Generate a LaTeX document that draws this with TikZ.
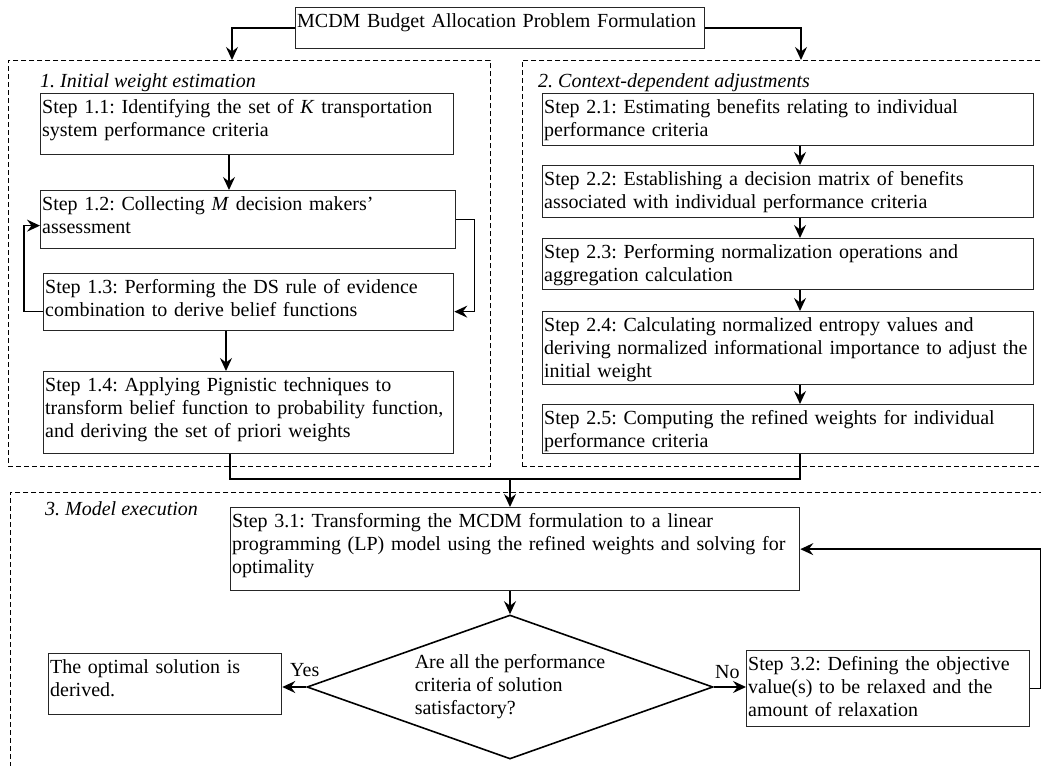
\documentclass[tikz,border=0pt]{standalone}
\usepackage{fontspec}
\setmainfont{Liberation Serif}
\usetikzlibrary{arrows.meta,shapes.geometric}
\frenchspacing

\begin{document}
\begin{tikzpicture}[x=1bp, y=-1bp,
	every node/.style={font=\fontsize{20bp}{23bp}\selectfont},
	stepbox/.style={draw=black!85, line width=1.3bp, anchor=north west, align=left, inner xsep=1.5bp, inner ysep=3bp, text height=17bp},
	groupbox/.style={draw, line width=0.9bp, dash pattern=on 5bp off 3bp, anchor=north west, inner sep=0pt},
	grouptitle/.style={anchor=base west, inner sep=0pt, font=\fontsize{20bp}{23bp}\selectfont\itshape},
	decision/.style={diamond, draw, line width=1.6bp, aspect=2.8, inner sep=0pt, align=left},
	arr/.style={line width=1.6bp, -{Stealth[length=13bp,width=12bp,inset=4.5bp]}},
	line/.style={line width=1.6bp}]
		%%%%% START %%%%%
		
		\useasboundingbox (0,0) rectangle (1041,766);
		\clip (0,0) rectangle (1041,766);
		
		\node[stepbox, text width=406bp, text depth=18bp] (top) at (295,7) {MCDM Budget Allocation Problem Formulation};
		
		% group frames
		\node[groupbox, minimum width=482bp, minimum height=406bp] (d1) at (8,60) {};
		\node[groupbox, minimum width=560bp, minimum height=406bp] (d2) at (522,60) {};
		\node[groupbox, minimum width=1080bp, minimum height=330bp] (d3) at (10,492) {};
		\node[grouptitle] (t1) at (40,88) {1. Initial weight estimation};
		\node[grouptitle] (t2) at (538,88) {2. Context-dependent adjustments};
		\node[grouptitle] (t3) at (45,515) {3. Model execution};
		
		\coordinate (in1) at (232,60);
		\coordinate (in2) at (801,60);
		\coordinate (c1) at (229,0);
		\coordinate (c13) at (226,0);
		\coordinate (c2) at (800,0);
		\coordinate (out1) at (230,479);
		\coordinate (out2) at (800,479);
		\coordinate (join) at (510,479);
		
		% 1. initial weights
		\node[stepbox, text width=410bp, text depth=38bp] (s11) at (40,93) {Step 1.1: Identifying the set of \textit{K} transportation\\system performance criteria};
		\node[stepbox, text width=412bp, text depth=35bp] (s12) at (40,190) {Step 1.2: Collecting \textit{M} decision makers'\\assessment};
		\node[stepbox, text width=407bp, text depth=34bp] (s13) at (43,273) {Step 1.3: Performing the DS rule of evidence\\combination to derive belief functions};
		\node[stepbox, text width=407bp, text depth=59bp] (s14) at (43,371) {Step 1.4: Applying Pignistic techniques to\\transform belief function to probability function,\\and deriving the set of priori weights};
		
		% 2. adjustments
		\node[stepbox, text width=488bp, text depth=29bp] (s21) at (542,93) {Step 2.1: Estimating benefits relating to individual\\performance criteria};
		\node[stepbox, text width=488bp, text depth=29bp] (s22) at (542,165) {Step 2.2: Establishing a decision matrix of benefits\\associated with individual performance criteria};
		\node[stepbox, text width=488bp, text depth=28bp] (s23) at (542,238) {Step 2.3: Performing normalization operations and\\aggregation calculation};
		\node[stepbox, text width=488bp, text depth=50bp] (s24) at (542,311) {Step 2.4: Calculating normalized entropy values and\\deriving normalized informational importance to adjust the\\initial weight};
		\node[stepbox, text width=488bp, text depth=26bp] (s25) at (542,404) {Step 2.5: Computing the refined weights for individual\\performance criteria};
		
		% 3. execution
		\node[stepbox, text width=566bp, text depth=60bp] (s31) at (230,507) {Step 3.1: Transforming the MCDM formulation to a linear\\programming (LP) model using the refined weights and solving for\\optimality};
		\node[decision, minimum width=406bp, minimum height=144bp] (dec) at (510,687) {Are all the performance\\criteria of solution\\satisfactory?};
		\node[stepbox, text width=230bp, text depth=38bp] (yes) at (48,653) {The optimal solution is\\derived.};
		\node[stepbox, text width=280bp, text depth=53bp] (s32) at (746,650) {Step 3.2: Defining the objective\\value(s) to be relaxed and the\\amount of relaxation};
		\node[anchor=base west, inner sep=0pt] (yeslbl) at (290,676) {Yes};
		\node[anchor=base west, inner sep=0pt] (nolbl) at (715,678) {No};
		
		% connectors
		\draw[arr] (top.west) -| (in1);
		\draw[arr] (top.east) -| (in2);
		
		\draw[arr] (s11.south -| c1) -- (s12.north -| c1);
		\draw[arr] ([yshift=-9.5bp]s13.west) -| ([xshift=-16bp,yshift=-6bp]s12.west) -- ([yshift=-6bp]s12.west);
		\draw[arr] (s12.east) -| ([xshift=20bp,yshift=-9.5bp]s13.east) -- ([yshift=-9.5bp]s13.east);
		\draw[arr] (s13.south -| c13) -- (s14.north -| c13);
		
		\foreach \a/\b in {s21/s22, s22/s23, s23/s24, s24/s25}
			\draw[arr] (\a.south -| c2) -- (\b.north -| c2);
		
		\draw[line] (s14.south -| out1) -- (out1) -- (out2) -- (s25.south -| out2);
		\draw[arr] (join) -- (s31.north -| join);
		\draw[arr] (s31.south -| join) -- (dec.north);
		\draw[arr] (dec.west) -- (dec.west -| yes.east);
		\draw[arr] (dec.east) -- (dec.east -| s32.west);
		\draw[arr] (s32.east) -| ([xshift=240bp]s31.east) -- (s31.east);
		
		%%%%% END %%%%%
	\end{tikzpicture}
\end{document}
